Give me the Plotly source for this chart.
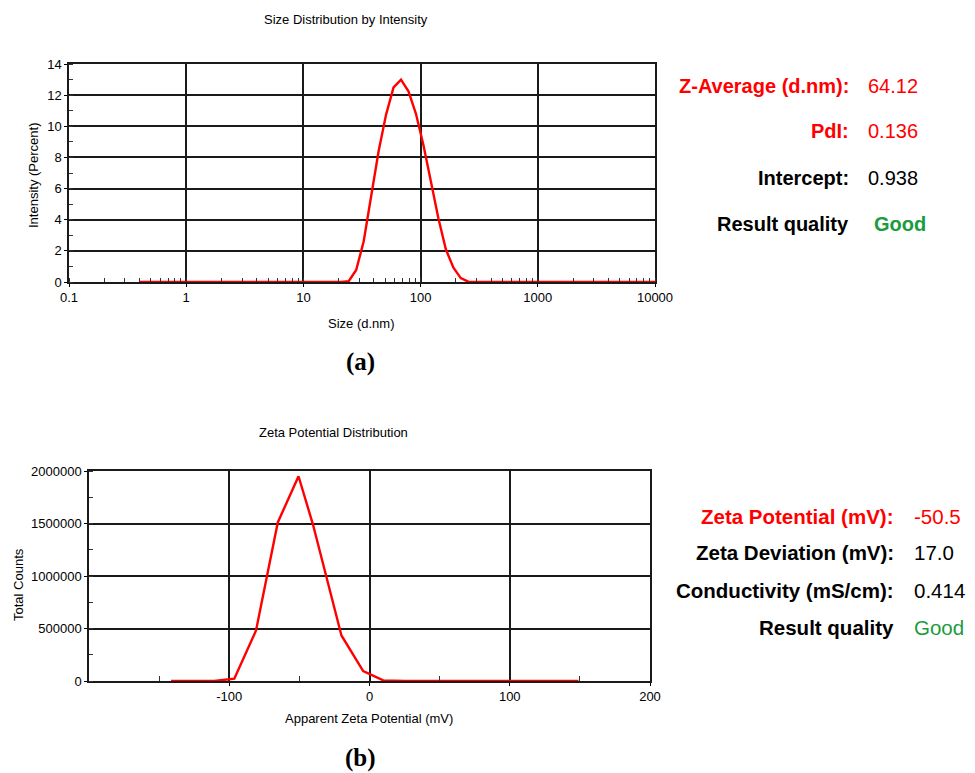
import plotly.graph_objects as go

# ---------------- data ----------------
size_nm = [0.4, 1, 10, 21.04, 24.36, 28.21, 32.67, 37.84, 43.82, 50.75, 58.77, 68.06,
           78.82, 91.28, 105.7, 122.4, 141.8, 164.2, 190.1, 220.2, 255.0, 295.3, 1000, 10000]
intensity_pct = [0, 0, 0, 0, 0.05, 0.77, 2.6, 5.45, 8.4, 10.75, 12.5, 13.0,
                 12.25, 10.8, 8.8, 6.45, 4.1, 2.1, 0.93, 0.25, 0.02, 0, 0, 0]

zeta_mv = [-141.5, -110.7, -96.4, -80.9, -65.4, -50.6, -40.3, -20.0, -4.5, 9.8, 25.0, 149.0]
zeta_counts = [0, 0, 22000, 481000, 1510000, 1950000, 1490000, 434000, 95000, 6000, 0, 0]

size_ticks = [0.1, 1, 10, 100, 1000, 10000]
size_ticktext = ["0.1", "1", "10", "100", "1000", "10000"]
zeta_ticks = [-100, 0, 100, 200]
zeta_ticktext = ["-100", "0", "100", "200"]
zeta_minor = [-150, -50, 50, 150]

size_stats = [("Z-Average (d.nm):", "64.12", "red", "red"),
              ("PdI:", "0.136", "red", "red"),
              ("Intercept:", "0.938", "black", "black"),
              ("Result quality", "Good", "black", "#1a9b3c")]
zeta_stats = [("Zeta Potential (mV):", "-50.5", "red", "red"),
              ("Zeta Deviation (mV):", "17.0", "black", "black"),
              ("Conductivity (mS/cm):", "0.414", "black", "black"),
              ("Result quality", "Good", "black", "#1a9b3c")]

# ---------------- layout helpers ----------------
# the page body has an 8px margin, so the figure is drawn 8px in from the window's top-left
OFF = 8
W, H = 975 - OFF, 773 - OFF
def px(x): return (x - OFF) / W
def py(y): return 1 - (y - OFF) / H

FONT = "Liberation Sans, Arial, sans-serif"

fig = go.Figure()
fig.add_trace(go.Scatter(x=size_nm, y=intensity_pct, mode="lines",
                         line=dict(color="#ff0000", width=2.4), xaxis="x", yaxis="y",
                         showlegend=False))
fig.add_trace(go.Scatter(x=zeta_mv, y=zeta_counts, mode="lines",
                         line=dict(color="#ff0000", width=2.4), xaxis="x2", yaxis="y2",
                         showlegend=False))

axis_common = dict(showgrid=True, gridcolor="#1a1a1a", gridwidth=1.5,
                   showline=True, linecolor="#1a1a1a", linewidth=1.5, mirror=True,
                   zeroline=False, ticks="outside", ticklen=3, tickcolor="black",
                   automargin=False,
                   tickfont=dict(family=FONT, size=13, color="black"))

fig.update_layout(
    width=W, height=H, margin=dict(l=0, r=0, t=0, b=0, autoexpand=False),
    paper_bgcolor="white", plot_bgcolor="white",
    font=dict(family=FONT, color="black"),
    xaxis=dict(type="log", range=[-1, 4], domain=[px(69), px(655)], anchor="y",
               tickvals=size_ticks, ticktext=size_ticktext,
               minor=dict(ticks="inside", ticklen=4, tickcolor="#333", dtick="D1", showgrid=False),
               **axis_common),
    yaxis=dict(range=[0, 14], dtick=2, domain=[py(282), py(64)], anchor="x",
               minor=dict(ticks="inside", ticklen=4, tickcolor="#333", dtick=1, showgrid=False),
               **axis_common),
    xaxis2=dict(range=[-200, 200], domain=[px(89), px(650)], anchor="y2",
                tickvals=zeta_ticks, ticktext=zeta_ticktext,
                minor=dict(ticks="inside", ticklen=5, tickcolor="#333", tickvals=zeta_minor, showgrid=False),
                **axis_common),
    yaxis2=dict(range=[0, 2000000], dtick=500000, tickformat="d",
                domain=[py(681), py(471)], anchor="x2",
                minor=dict(ticks="inside", ticklen=4, tickcolor="#333", dtick=250000, showgrid=False),
                **axis_common),
)

ann = []
def text(x, y, s, size=12, color="black", bold=False, xanchor="center", family=FONT, angle=0):
    ann.append(dict(x=px(x), y=py(y), xref="paper", yref="paper", showarrow=False,
                    text=f"<b>{s}</b>" if bold else s, xanchor=xanchor, yanchor="middle",
                    textangle=angle, font=dict(family=family, size=size, color=color)))

# titles & axis titles
text(346, 20, "Size Distribution by Intensity", size=13)
text(361, 323, "Size (d.nm)", size=13)
text(33, 175, "Intensity (Percent)", size=13, angle=-90)
text(360, 362, "(a)", size=25, bold=True, family="Liberation Serif, Times New Roman, serif")

text(333, 432, "Zeta Potential Distribution", size=13)
text(369, 718, "Apparent Zeta Potential (mV)", size=13)
text(18, 585, "Total Counts", size=13, angle=-90)
text(360, 758, "(b)", size=25, bold=True, family="Liberation Serif, Times New Roman, serif")

# stats blocks
for (lab, val, lc, vc), y in zip(size_stats, [86, 131, 178, 224]):
    text(851, y, lab, size=20, color=lc, bold=True, xanchor="right")
    is_good = val == "Good"
    text(872 if is_good else 866, y, val, size=20, color=vc, bold=is_good, xanchor="left")

for (lab, val, lc, vc), y in zip(zeta_stats, [516, 552, 590, 627]):
    text(896, y, lab, size=20.5, color=lc, bold=True, xanchor="right")
    text(912, y, val, size=20.5, color=vc, bold=False, xanchor="left")

fig.update_layout(annotations=ann)
fig.write_html("out.html")
